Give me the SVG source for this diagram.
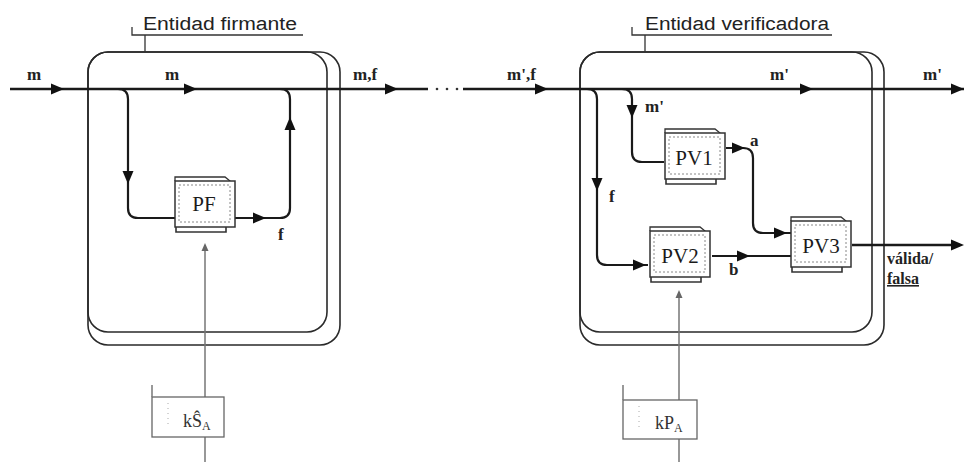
<svg xmlns="http://www.w3.org/2000/svg" xmlns:xlink="http://www.w3.org/1999/xlink" width="964" height="462" viewBox="0 0 964 462">
<style>
.ent{fill:none;stroke:#2a2a2a;stroke-width:1.6}
.brk{fill:none;stroke:#333;stroke-width:1.3}
.ttl{font-family:"Liberation Sans","DejaVu Sans",sans-serif;font-size:18px;fill:#222}
.lbl{font-family:"Liberation Serif","DejaVu Serif",serif;font-size:17px;font-weight:bold;fill:#222}
.out{font-family:"Liberation Serif","DejaVu Serif",serif;font-size:16px;font-weight:bold;fill:#222}
.nt{font-family:"Liberation Serif","DejaVu Serif",serif;font-size:21px;fill:#1a1a1a}
.key{font-family:"Liberation Serif","DejaVu Serif",serif;font-size:18px;fill:#333}
.flow{fill:none;stroke:#1a1a1a;stroke-width:2.2}
.main{fill:none;stroke:#1a1a1a;stroke-width:2.6}
.thin{fill:none;stroke:#777;stroke-width:1.5}
.ah{fill:#111}
.ahs{fill:#666}
.kbox{fill:#fff;stroke:#666;stroke-width:1.3}
</style>
<defs>
<g id="doc">
<path d="M2,5 V1 H52 L57,5 V8" fill="#fff" stroke="#333" stroke-width="1.3"/>
<path d="M3,50 V56 H53 V50" fill="#fff" stroke="#333" stroke-width="1.6"/>
<rect x="2" y="5" width="60" height="46" fill="#fff" stroke="#333" stroke-width="1.5"/>
<rect x="6" y="9" width="51" height="37" fill="none" stroke="#888" stroke-width="1" stroke-dasharray="2,2"/>
</g>
<path id="ah" d="M-13,-5.5 L0,0 L-13,5.5 Z"/>
<path id="ahsm" d="M-8,-3.5 L0,0 L-8,3.5 Z"/>
</defs>

<g id="entidad-firmante">
<rect class="ent" x="88" y="52" width="252" height="293" rx="20"/>
<rect class="ent" x="88" y="52" width="239" height="280" rx="20"/>
<path class="brk" d="M132,27 V35 H303 M145,35 V52"/>
<text class="ttl" x="143" y="30" textLength="154" lengthAdjust="spacingAndGlyphs">Entidad firmante</text>
</g>

<g id="entidad-verificadora">
<rect class="ent" x="580" y="52" width="304" height="293" rx="20"/>
<rect class="ent" x="580" y="52" width="292" height="280" rx="20"/>
<path class="brk" d="M632,27 V35 H832 M645,35 V52"/>
<text class="ttl" x="645" y="30" textLength="184" lengthAdjust="spacingAndGlyphs">Entidad verificadora</text>
</g>

<g id="connectors">
<path class="main" d="M10,89 H428"/>
<circle cx="437" cy="89" r="1.3" fill="#333"/>
<circle cx="447" cy="89" r="1.3" fill="#333"/>
<circle cx="457" cy="89" r="1.3" fill="#333"/>
<path class="main" d="M463,89 H964"/>
<path class="flow" d="M118,89 Q128,89 128,99 V208 Q128,218 138,218 H175"/>
<path class="flow" d="M235,218 H280 Q290,218 290,208 V99 Q290,89 280,89"/>
<path class="thin" d="M205,397 V245 M205,437 V462"/>
<path class="flow" d="M587,89 Q597,89 597,99 V255 Q597,265 607,265 H648"/>
<path class="flow" d="M622,89 Q632,89 632,99 V152 Q632,162 642,162 H664"/>
<path class="flow" d="M726,148 H743 Q753,148 753,158 V223 Q753,233 763,233 H791"/>
<path class="flow" d="M712,256 H791"/>
<path class="main" d="M852,245 H960"/>
<path class="thin" d="M679,400 V292 M679,439 V462"/>
<g class="ah">
<use xlink:href="#ah" transform="translate(64,89)"/>
<use xlink:href="#ah" transform="translate(197,89)"/>
<use xlink:href="#ah" transform="translate(398,89)"/>
<use xlink:href="#ah" transform="translate(128,184) rotate(90)"/>
<use xlink:href="#ah" transform="translate(290,117) rotate(-90)"/>
<use xlink:href="#ah" transform="translate(266,218)"/>
<use xlink:href="#ah" transform="translate(548,89)"/>
<use xlink:href="#ah" transform="translate(813,89)"/>
<use xlink:href="#ah" transform="translate(964,89)"/>
<use xlink:href="#ah" transform="translate(632,118) rotate(90)"/>
<use xlink:href="#ah" transform="translate(597,191) rotate(90)"/>
<use xlink:href="#ah" transform="translate(745,148)"/>
<use xlink:href="#ah" transform="translate(787,233)"/>
<use xlink:href="#ah" transform="translate(646,265)"/>
<use xlink:href="#ah" transform="translate(750,256)"/>
<use xlink:href="#ah" transform="translate(964,245)"/>
</g>
<g class="ahs">
<use xlink:href="#ahsm" transform="translate(205,243) rotate(-90)"/>
<use xlink:href="#ahsm" transform="translate(679,290) rotate(-90)"/>
</g>
<text class="lbl" x="27" y="80">m</text>
<text class="lbl" x="165" y="80">m</text>
<text class="lbl" x="353" y="80">m,f</text>
<text class="lbl" x="507" y="80">m',f</text>
<text class="lbl" x="770" y="80">m'</text>
<text class="lbl" x="923" y="80">m'</text>
<text class="lbl" x="645" y="112">m'</text>
<text class="lbl" x="750" y="146">a</text>
<text class="lbl" x="609" y="202">f</text>
<text class="lbl" x="278" y="240">f</text>
<text class="lbl" x="729" y="275">b</text>
<text class="out" x="887" y="264">válida/</text>
<text class="out" x="887" y="284" text-decoration="underline">falsa</text>
</g>

<g id="PF">
<use xlink:href="#doc" transform="translate(173,176)"/>
<text class="nt" x="204" y="211" text-anchor="middle">PF</text>
</g>
<g id="PV1">
<use xlink:href="#doc" transform="translate(663,128)"/>
<text class="nt" x="694" y="165" text-anchor="middle">PV1</text>
</g>
<g id="PV2">
<use xlink:href="#doc" transform="translate(648,226)"/>
<text class="nt" x="680" y="263" text-anchor="middle">PV2</text>
</g>
<g id="PV3">
<use xlink:href="#doc" transform="translate(789,216)"/>
<text class="nt" x="821" y="253" text-anchor="middle">PV3</text>
</g>

<g id="kSA">
<rect class="kbox" x="152" y="397" width="72" height="40"/>
<path class="thin" d="M152,385 V397" stroke-width="1.2"/>
<path d="M168,403 V428" stroke="#aaa" stroke-width="1" stroke-dasharray="1,4"/>
<text class="key" x="183" y="427">kŜ<tspan font-size="12" dy="3">A</tspan></text>
</g>
<g id="kPA">
<rect class="kbox" x="623" y="400" width="74" height="39"/>
<path class="thin" d="M623,385 V400" stroke-width="1.2"/>
<path d="M639,406 V430" stroke="#aaa" stroke-width="1" stroke-dasharray="1,4"/>
<text class="key" x="655" y="429">kP<tspan font-size="12" dy="3">A</tspan></text>
</g>
</svg>
